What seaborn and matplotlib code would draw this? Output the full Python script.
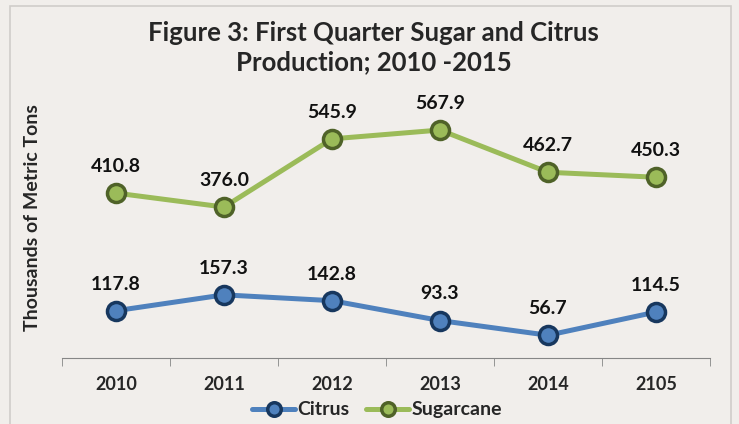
import pandas as pd
import matplotlib.pyplot as plt
import seaborn as sns
from matplotlib.patches import Rectangle

years = ['2010', '2011', '2012', '2013', '2014', '2105']
citrus = [117.8, 157.3, 142.8, 93.3, 56.7, 114.5]
sugarcane = [410.8, 376.0, 545.9, 567.9, 462.7, 450.3]

sns.set_style('white')
plt.rcParams['font.family'] = ['Lato', 'DejaVu Sans']

bg = '#f1eeeb'
fig = plt.figure(figsize=(7.39, 4.24), dpi=100, facecolor=bg)
fig.patches.append(Rectangle((10/739, -0.01), 721/739, 1 - 6/424 + 0.01, transform=fig.transFigure,
                             fill=False, edgecolor='#d0cdca', linewidth=1.2))
ax = fig.add_axes([62/739, 66/424, 648/739, 281/424])
ax.set_facecolor(bg)

df = pd.DataFrame({'pos': range(len(years)), 'Citrus': citrus, 'Sugarcane': sugarcane})
styles = {'Citrus': ('#4f81bd', '#17375e'), 'Sugarcane': ('#9bbb59', '#4f6228')}
for name, (col, edge) in styles.items():
    sns.lineplot(data=df, x='pos', y=name, ax=ax, color=col, linewidth=3.6, marker='o',
                 markersize=13, markerfacecolor=col, markeredgecolor=edge, markeredgewidth=2.5,
                 label=name)
    for x, v in zip(df['pos'], df[name]):
        ax.annotate(f'{v:.1f}', (x, v), xytext=(0, 13), textcoords='offset points',
                    ha='center', va='bottom', fontsize=14, fontweight='bold', color='#111111')

ax.set_xlim(-0.5, 5.5)
ax.set_ylim(0, 700)
ax.set_xticks(range(len(years)))
ax.set_xticklabels(years, fontsize=13, fontweight='bold')
ax.set_xticks([i - 0.5 for i in range(len(years) + 1)], minor=True)
ax.tick_params(axis='x', which='major', length=0, pad=13)
ax.tick_params(axis='x', which='minor', length=6, color='#868686', direction='out', bottom=True)
ax.set_yticks([])
ax.set_xlabel('')
ax.set_ylabel('Thousands of Metric Tons', fontsize=14, fontweight='bold')
ax.yaxis.set_label_coords(-0.033, 0.5)
for s in ['top', 'right', 'left']:
    ax.spines[s].set_visible(False)
ax.spines['bottom'].set_color('#868686')

fig.text(0.506, 0.888, 'Figure 3: First Quarter Sugar and Citrus\nProduction; 2010 -2015',
         ha='center', va='center', fontsize=18.5, fontweight='bold', linespacing=1.25)

ax.legend(loc='center', bbox_to_anchor=(0.486, -0.185), ncol=2, frameon=False,
          prop={'weight': 'bold', 'size': 14}, handlelength=2.2, handletextpad=0.1,
          columnspacing=0.9, borderaxespad=0, markerscale=0.75)

fig.savefig('out.png', dpi=100, facecolor=bg)
